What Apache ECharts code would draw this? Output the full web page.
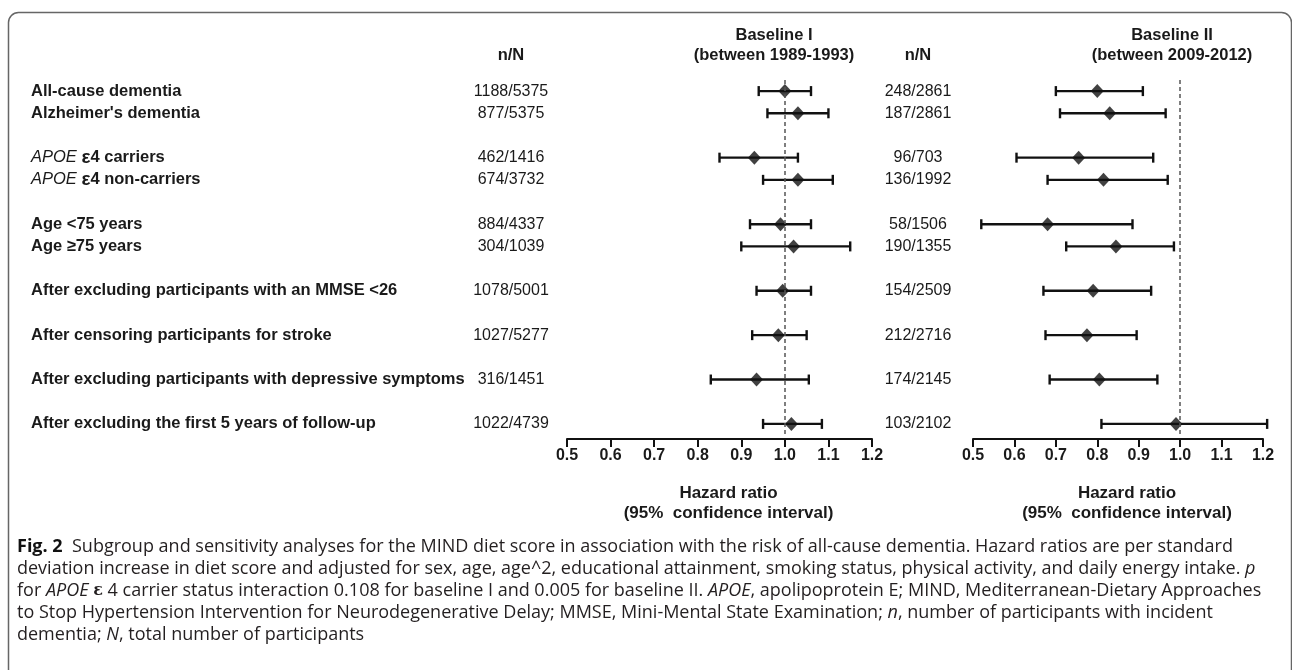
<!DOCTYPE html>
<html>
<head>
<meta charset="utf-8">
<script src="https://cdn.jsdelivr.net/npm/echarts@6/dist/echarts.min.js"></script>
<style>
  html, body { margin: 0; padding: 0; background: #fff; }
  #chart { width: 1292px; height: 670px; }
</style>
</head>
<body>
<div id="chart"></div>
<script>
// subgroups in the order they are listed, and how they are grouped
const subgroups = [
  'All-cause dementia', "Alzheimer's dementia",
  'APOE ε4 carriers', 'APOE ε4 non-carriers',
  'Age <75 years', 'Age ≥75 years',
  'After excluding participants with an MMSE <26',
  'After censoring participants for stroke',
  'After excluding participants with depressive symptoms',
  'After excluding the first 5 years of follow-up'
];
const groupSizes = [2, 2, 2, 1, 1, 1, 1];

// baseline I (1989-1993)
const cases1 = ['1188/5375', '877/5375', '462/1416', '674/3732', '884/4337', '304/1039', '1078/5001', '1027/5277', '316/1451', '1022/4739'];
const hr1 = [1.00, 1.03, 0.93, 1.03, 0.99, 1.02, 0.995, 0.985, 0.935, 1.015];
const low1 = [0.94, 0.96, 0.85, 0.95, 0.92, 0.90, 0.935, 0.925, 0.83, 0.95];
const high1 = [1.06, 1.10, 1.03, 1.11, 1.06, 1.15, 1.06, 1.05, 1.055, 1.085];

// baseline II (2009-2012)
const cases2 = ['248/2861', '187/2861', '96/703', '136/1992', '58/1506', '190/1355', '154/2509', '212/2716', '174/2145', '103/2102'];
const hr2 = [0.80, 0.83, 0.755, 0.815, 0.68, 0.845, 0.79, 0.775, 0.805, 0.99];
const low2 = [0.70, 0.71, 0.605, 0.68, 0.52, 0.725, 0.67, 0.675, 0.685, 0.81];
const high2 = [0.91, 0.965, 0.935, 0.97, 0.885, 0.985, 0.93, 0.895, 0.945, 1.21];

const axisMin = 0.5, axisMax = 1.2, axisStep = 0.1;

const FONT = 'Liberation Sans, Arial, sans-serif';
const INK = '#1a1a1a';

// one category row per subgroup, a blank row between groups
const rows = [], rows1 = [], rows2 = [], slot = [];
let k = 0;
groupSizes.forEach((size, g) => {
    if (g > 0) { rows.push(''); rows1.push(''); rows2.push(''); }
    for (let j = 0; j < size; j++, k++) {
        slot.push(rows.length);
        rows.push(subgroups[k]);
        rows1.push(cases1[k]);
        rows2.push(cases2[k]);
    }
});

function drawCI (params, api) {
    const row = api.value(0);
    const a = api.coord([api.value(1), row]);
    const b = api.coord([api.value(2), row]);
    const cap = 5;
    const st = () => ({ stroke: '#111', lineWidth: 2.4 });
    return {
        type: 'group',
        children: [
            { type: 'line', shape: { x1: a[0], y1: a[1], x2: b[0], y2: b[1] }, style: st() },
            { type: 'line', shape: { x1: a[0], y1: a[1] - cap, x2: a[0], y2: a[1] + cap }, style: st() },
            { type: 'line', shape: { x1: b[0], y1: b[1] - cap, x2: b[0], y2: b[1] + cap }, style: st() }
        ]
    };
}

function xAxisFor (gridIndex) {
    return {
        type: 'value', gridIndex, min: axisMin, max: axisMax, interval: axisStep,
        offset: 4,
        splitLine: { show: false },
        axisLine: { show: true, lineStyle: { color: '#111', width: 2 } },
        axisTick: { show: true, length: 8, lineStyle: { color: '#111', width: 2 } },
        axisLabel: {
            margin: 9, color: INK, fontFamily: FONT, fontWeight: 'bold', fontSize: 16,
            showMinLabel: true, showMaxLabel: true,
            formatter: v => v.toFixed(1)
        },
        name: 'Hazard ratio\n(95%  confidence interval)',
        nameLocation: 'middle', nameGap: 44,
        nameTextStyle: { color: INK, fontFamily: FONT, fontWeight: 'bold', fontSize: 17, lineHeight: 20, padding: [0, 0, 0, 18] }
    };
}

function hiddenCat (gridIndex, data, margin, labelStyle) {
    return {
        type: 'category', gridIndex, data, inverse: true, position: 'left',
        axisLine: { show: false }, axisTick: { show: false }, splitLine: { show: false },
        axisLabel: Object.assign({ margin, interval: 0, color: INK, fontFamily: FONT }, labelStyle)
    };
}

const ci1 = subgroups.map((s, i) => [slot[i], low1[i], high1[i]]);
const ci2 = subgroups.map((s, i) => [slot[i], low2[i], high2[i]]);
const pt1 = subgroups.map((s, i) => [hr1[i], slot[i]]);
const pt2 = subgroups.map((s, i) => [hr2[i], slot[i]]);

const refLine = {
    silent: true, symbol: 'none', label: { show: false },
    lineStyle: { type: [4, 3], color: '#555', width: 1.5 },
    data: [{ xAxis: 1 }]
};

const headerText = (text, x, y) => ({
    type: 'text', x, y,
    style: { text, textAlign: 'center', textVerticalAlign: 'middle', fill: INK, font: 'bold 16.5px ' + FONT }
});

const captionLines = [
    '{b|Fig. 2}  Subgroup and sensitivity analyses for the MIND diet score in association with the risk of all-cause dementia. Hazard ratios are per standard',
    'deviation increase in diet score and adjusted for sex, age, age^2, educational attainment, smoking status, physical activity, and daily energy intake. {i|p}',
    'for {i|APOE} {e|ε} 4 carrier status interaction 0.108 for baseline I and 0.005 for baseline II. {i|APOE}, apolipoprotein E; MIND, Mediterranean-Dietary Approaches',
    'to Stop Hypertension Intervention for Neurodegenerative Delay; MMSE, Mini-Mental State Examination; {i|n}, number of participants with incident',
    'dementia; {i|N}, total number of participants'
];
const capFont = 'Open Sans, Noto Sans, sans-serif';
const capSize = 18;

const chart = echarts.init(document.getElementById('chart'));
chart.setOption({
    animation: false,
    grid: [
        { left: 567, right: 420, top: 80, bottom: 235 },
        { left: 973, right: 29, top: 80, bottom: 235 }
    ],
    xAxis: [xAxisFor(0), xAxisFor(1)],
    yAxis: [
        hiddenCat(0, rows, 536, {
            align: 'left', fontWeight: 'bold', fontSize: 16.5,
            formatter: v => v.startsWith('APOE') ? '{it|APOE} {ep|ε}' + v.slice(6) : v,
            rich: {
                it: { fontStyle: 'italic', fontWeight: 'normal', fontSize: 16.5, fontFamily: FONT, color: INK },
                ep: { fontWeight: 'bold', fontSize: 19, fontFamily: FONT, color: INK }
            }
        }),
        hiddenCat(0, rows1, 56, { align: 'center', fontSize: 16 }),
        hiddenCat(1, rows2, 55, { align: 'center', fontSize: 16 })
    ],
    series: [
        { type: 'custom', xAxisIndex: 0, yAxisIndex: 0, renderItem: drawCI, encode: { x: [1, 2], y: 0 }, data: ci1, clip: false, z: 3 },
        { type: 'scatter', xAxisIndex: 0, yAxisIndex: 0, symbol: 'diamond', symbolSize: [13, 14], itemStyle: { color: '#111' }, data: pt1, markLine: refLine, z: 4 },
        { type: 'custom', xAxisIndex: 1, yAxisIndex: 2, renderItem: drawCI, encode: { x: [1, 2], y: 0 }, data: ci2, clip: false, z: 3 },
        { type: 'scatter', xAxisIndex: 1, yAxisIndex: 2, symbol: 'diamond', symbolSize: [13, 14], itemStyle: { color: '#111' }, data: pt2, markLine: refLine, z: 4 }
    ],
    graphic: [
        {
            type: 'rect', silent: true,
            shape: { x: 8.5, y: 12.5, width: 1283, height: 720, r: 10 },
            style: { fill: 'none', stroke: '#666', lineWidth: 1.5 }
        },
        headerText('n/N', 511, 55),
        headerText('Baseline I', 774, 35),
        headerText('(between 1989-1993)', 774, 55),
        headerText('n/N', 918, 55),
        headerText('Baseline II', 1172, 35),
        headerText('(between 2009-2012)', 1172, 55)
    ].concat(captionLines.map((line, i) => ({
        type: 'text', x: 17, y: 547 + 22 * i,
        style: {
            text: line, textVerticalAlign: 'middle', fill: '#231f20',
            fontFamily: capFont, fontSize: capSize,
            rich: {
                b: { fontWeight: 'bold', fontFamily: capFont, fontSize: capSize, fill: '#111' },
                i: { fontStyle: 'italic', fontFamily: capFont, fontSize: capSize },
                e: { fontWeight: 'bold', fontFamily: 'DejaVu Serif, serif', fontSize: 16 }
            }
        }
    })))
});
</script>
</body>
</html>
